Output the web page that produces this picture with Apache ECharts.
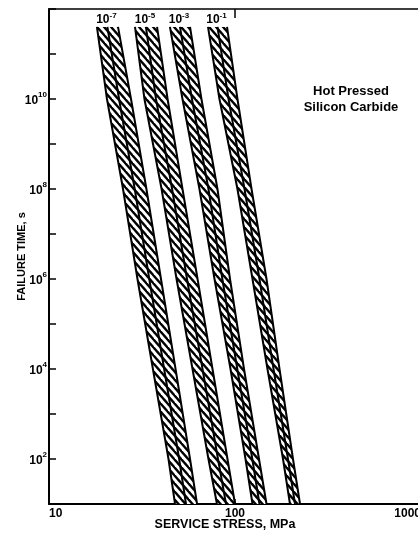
<!DOCTYPE html>
<html>
<head>
<meta charset="utf-8">
<script src="https://cdn.jsdelivr.net/npm/echarts@6/dist/echarts.min.js"></script>
<style>
  html, body { margin: 0; padding: 0; background: #fff; }
  #chart { width: 418px; height: 538px; }
</style>
</head>
<body>
<div id="chart"></div>
<script>
// Failure times (s) at which the band edges are tabulated, top to bottom
const failureTimes = [4e11, 1e10, 1e8, 1e6, 1e4, 1e2, 10];

// Service stress (MPa) of each band's left edge, centre line and right edge
const band7Left  = [18.1, 20.5, 25.0, 29.9, 36.2, 43.9, 47.6];
const band7Mid   = [20.6, 23.8, 28.9, 34.6, 41.6, 50.1, 54.5];
const band7Right = [23.5, 27.6, 33.4, 40.0, 47.9, 57.3, 62.5];

const band5Left  = [29.0, 32.6, 40.3, 48.5, 59.1, 72.0, 80.0];
const band5Mid   = [33.2, 37.6, 45.9, 55.2, 66.9, 81.0, 89.5];
const band5Right = [38.1, 43.4, 52.2, 62.9, 75.7, 91.1, 100.0];

const band3Left  = [44.7, 52.2, 64.4, 77.6, 94.6, 113.9, 124.2];
const band3Mid   = [50.6, 58.7, 72.0, 85.5, 102.9, 123.9, 135.4];
const band3Right = [57.3, 66.0, 80.5, 94.0, 111.8, 134.6, 147.7];

const band1Left  = [71.6, 82.5, 103.1, 124.2, 149.5, 181.2, 197.5];
const band1Mid   = [80.5, 92.3, 112.5, 135.4, 161.1, 192.7, 210.2];
const band1Right = [90.6, 103.1, 122.7, 147.7, 173.5, 205.0, 223.6];

// Exponents of the band labels (10^n)
const bandExponents = ['-7', '-5', '-3', '-1'];
// Decades that carry a label on the time axis
const timeLabelExponents = [2, 4, 6, 8, 10];
const noteLines = ['Hot Pressed', 'Silicon Carbide'];

const bands = [
  { exp: bandExponents[0], left: band7Left, mid: band7Mid, right: band7Right },
  { exp: bandExponents[1], left: band5Left, mid: band5Mid, right: band5Right },
  { exp: bandExponents[2], left: band3Left, mid: band3Mid, right: band3Right },
  { exp: bandExponents[3], left: band1Left, mid: band1Mid, right: band1Right }
];

const FONT = '"Liberation Sans", Arial, Helvetica, sans-serif';

// Diagonal hatching tile: black ground with white "\" stripes
function makeHatch() {
  const W = 7, H = 8;
  const c = document.createElement('canvas');
  c.width = W; c.height = H;
  const g = c.getContext('2d');
  g.fillStyle = '#000';
  g.fillRect(0, 0, W, H);
  g.strokeStyle = '#fff';
  g.lineWidth = 2.8;
  for (let k = -1; k <= 1; k++) {
    g.beginPath();
    g.moveTo(k * W - W, -H);
    g.lineTo(k * W + 2 * W, 2 * H);
    g.stroke();
  }
  return c;
}
const hatch = { image: makeHatch(), repeat: 'repeat' };

const chart = echarts.init(document.getElementById('chart'), null, { renderer: 'canvas' });

const option = {
  backgroundColor: '#fff',
  animation: false,
  grid: { left: 49, top: 9, right: -3, bottom: 34, outerBoundsMode: 'none', containLabel: false },
  xAxis: [
    {
      type: 'log', logBase: 10, min: 10, max: 1000, interval: 1,
      position: 'bottom',
      name: 'SERVICE STRESS, MPa', nameLocation: 'middle', nameGap: 14, nameMoveOverlap: false,
      nameTextStyle: { fontFamily: FONT, fontWeight: 'bold', fontSize: 12.5, color: '#000', padding: [0, 20, 0, 0] },
      axisLine: { show: true, lineStyle: { color: '#000', width: 2 } },
      axisTick: { show: true, inside: true, length: 5, lineStyle: { color: '#000', width: 1.5 } },
      axisLabel: {
        show: true, margin: 4, color: '#000', fontFamily: FONT, fontWeight: 'bold', fontSize: 12,
        alignMinLabel: 'left', alignMaxLabel: 'right',
        formatter: v => String(Math.round(v))
      },
      splitLine: { show: false }, minorTick: { show: false }
    },
    {
      type: 'log', logBase: 10, min: 10, max: 1000, interval: 1,
      position: 'top',
      axisLine: { show: true, lineStyle: { color: '#000', width: 1.5 } },
      axisTick: { show: true, inside: true, length: 9, lineStyle: { color: '#000', width: 1.5 } },
      axisLabel: { show: false },
      splitLine: { show: false }
    }
  ],
  yAxis: {
    type: 'log', logBase: 10, min: 10, max: 1e12, interval: 1,
    name: 'FAILURE TIME, s', nameLocation: 'middle', nameGap: 22, nameRotate: 90, nameMoveOverlap: false,
    nameTextStyle: { fontFamily: FONT, fontWeight: 'bold', fontSize: 11, color: '#000' },
    axisLine: { show: true, lineStyle: { color: '#000', width: 2 } },
    axisTick: { show: true, inside: true, length: 7, lineStyle: { color: '#000', width: 1.5 } },
    axisLabel: {
      show: true, margin: 2, color: '#000',
      formatter: v => {
        const e = Math.round(Math.log10(v));
        return timeLabelExponents.includes(e) ? '{b|10}{s|' + e + '}' : '';
      },
      rich: {
        b: { fontFamily: FONT, fontWeight: 'bold', fontSize: 12, color: '#000', lineHeight: 16, verticalAlign: 'bottom' },
        s: { fontFamily: FONT, fontWeight: 'bold', fontSize: 8, color: '#000', lineHeight: 10, verticalAlign: 'top' }
      }
    },
    splitLine: { show: false }, minorTick: { show: false }
  },
  graphic: [
    {
      type: 'text', x: 351, y: 84, silent: true,
      style: {
        text: noteLines.join('\n'), align: 'center', textAlign: 'center',
        font: 'bold 13px ' + FONT, fill: '#000', lineHeight: 15.5
      }
    }
  ],
  series: [
    {
      type: 'custom',
      coordinateSystem: 'cartesian2d',
      xAxisIndex: 0, yAxisIndex: 0,
      silent: true, clip: false,
      data: bands.map((b, i) => [b.mid[0], failureTimes[0], i]),
      encode: { x: 0, y: 1 },
      renderItem: (params, api) => {
        const b = bands[params.dataIndex];
        const pts = arr => arr.map((s, k) => api.coord([s, failureTimes[k]]));
        const L = pts(b.left), M = pts(b.mid), R = pts(b.right);
        const line = p => ({
          type: 'polyline', shape: { points: p },
          style: { stroke: '#000', lineWidth: 2, fill: null }
        });
        const top = M[0];
        return {
          type: 'group',
          children: [
            { type: 'polygon', shape: { points: L.concat(M.slice().reverse()) }, style: { fill: hatch, stroke: null } },
            { type: 'polygon', shape: { points: M.concat(R.slice().reverse()) }, style: { fill: hatch, stroke: null } },
            line(L), line(M), line(R),
            {
              type: 'text', x: top[0] - 1, y: top[1] - 1,
              style: {
                text: '{b|10}{s|' + b.exp + '}',
                align: 'center', verticalAlign: 'bottom', fill: '#000',
                rich: {
                  b: { fontFamily: FONT, fontWeight: 'bold', fontSize: 12, fill: '#000', lineHeight: 14, verticalAlign: 'bottom' },
                  s: { fontFamily: FONT, fontWeight: 'bold', fontSize: 8, fill: '#000', lineHeight: 10, verticalAlign: 'top' }
                }
              }
            }
          ]
        };
      }
    }
  ]
};

chart.setOption(option);
</script>
</body>
</html>
